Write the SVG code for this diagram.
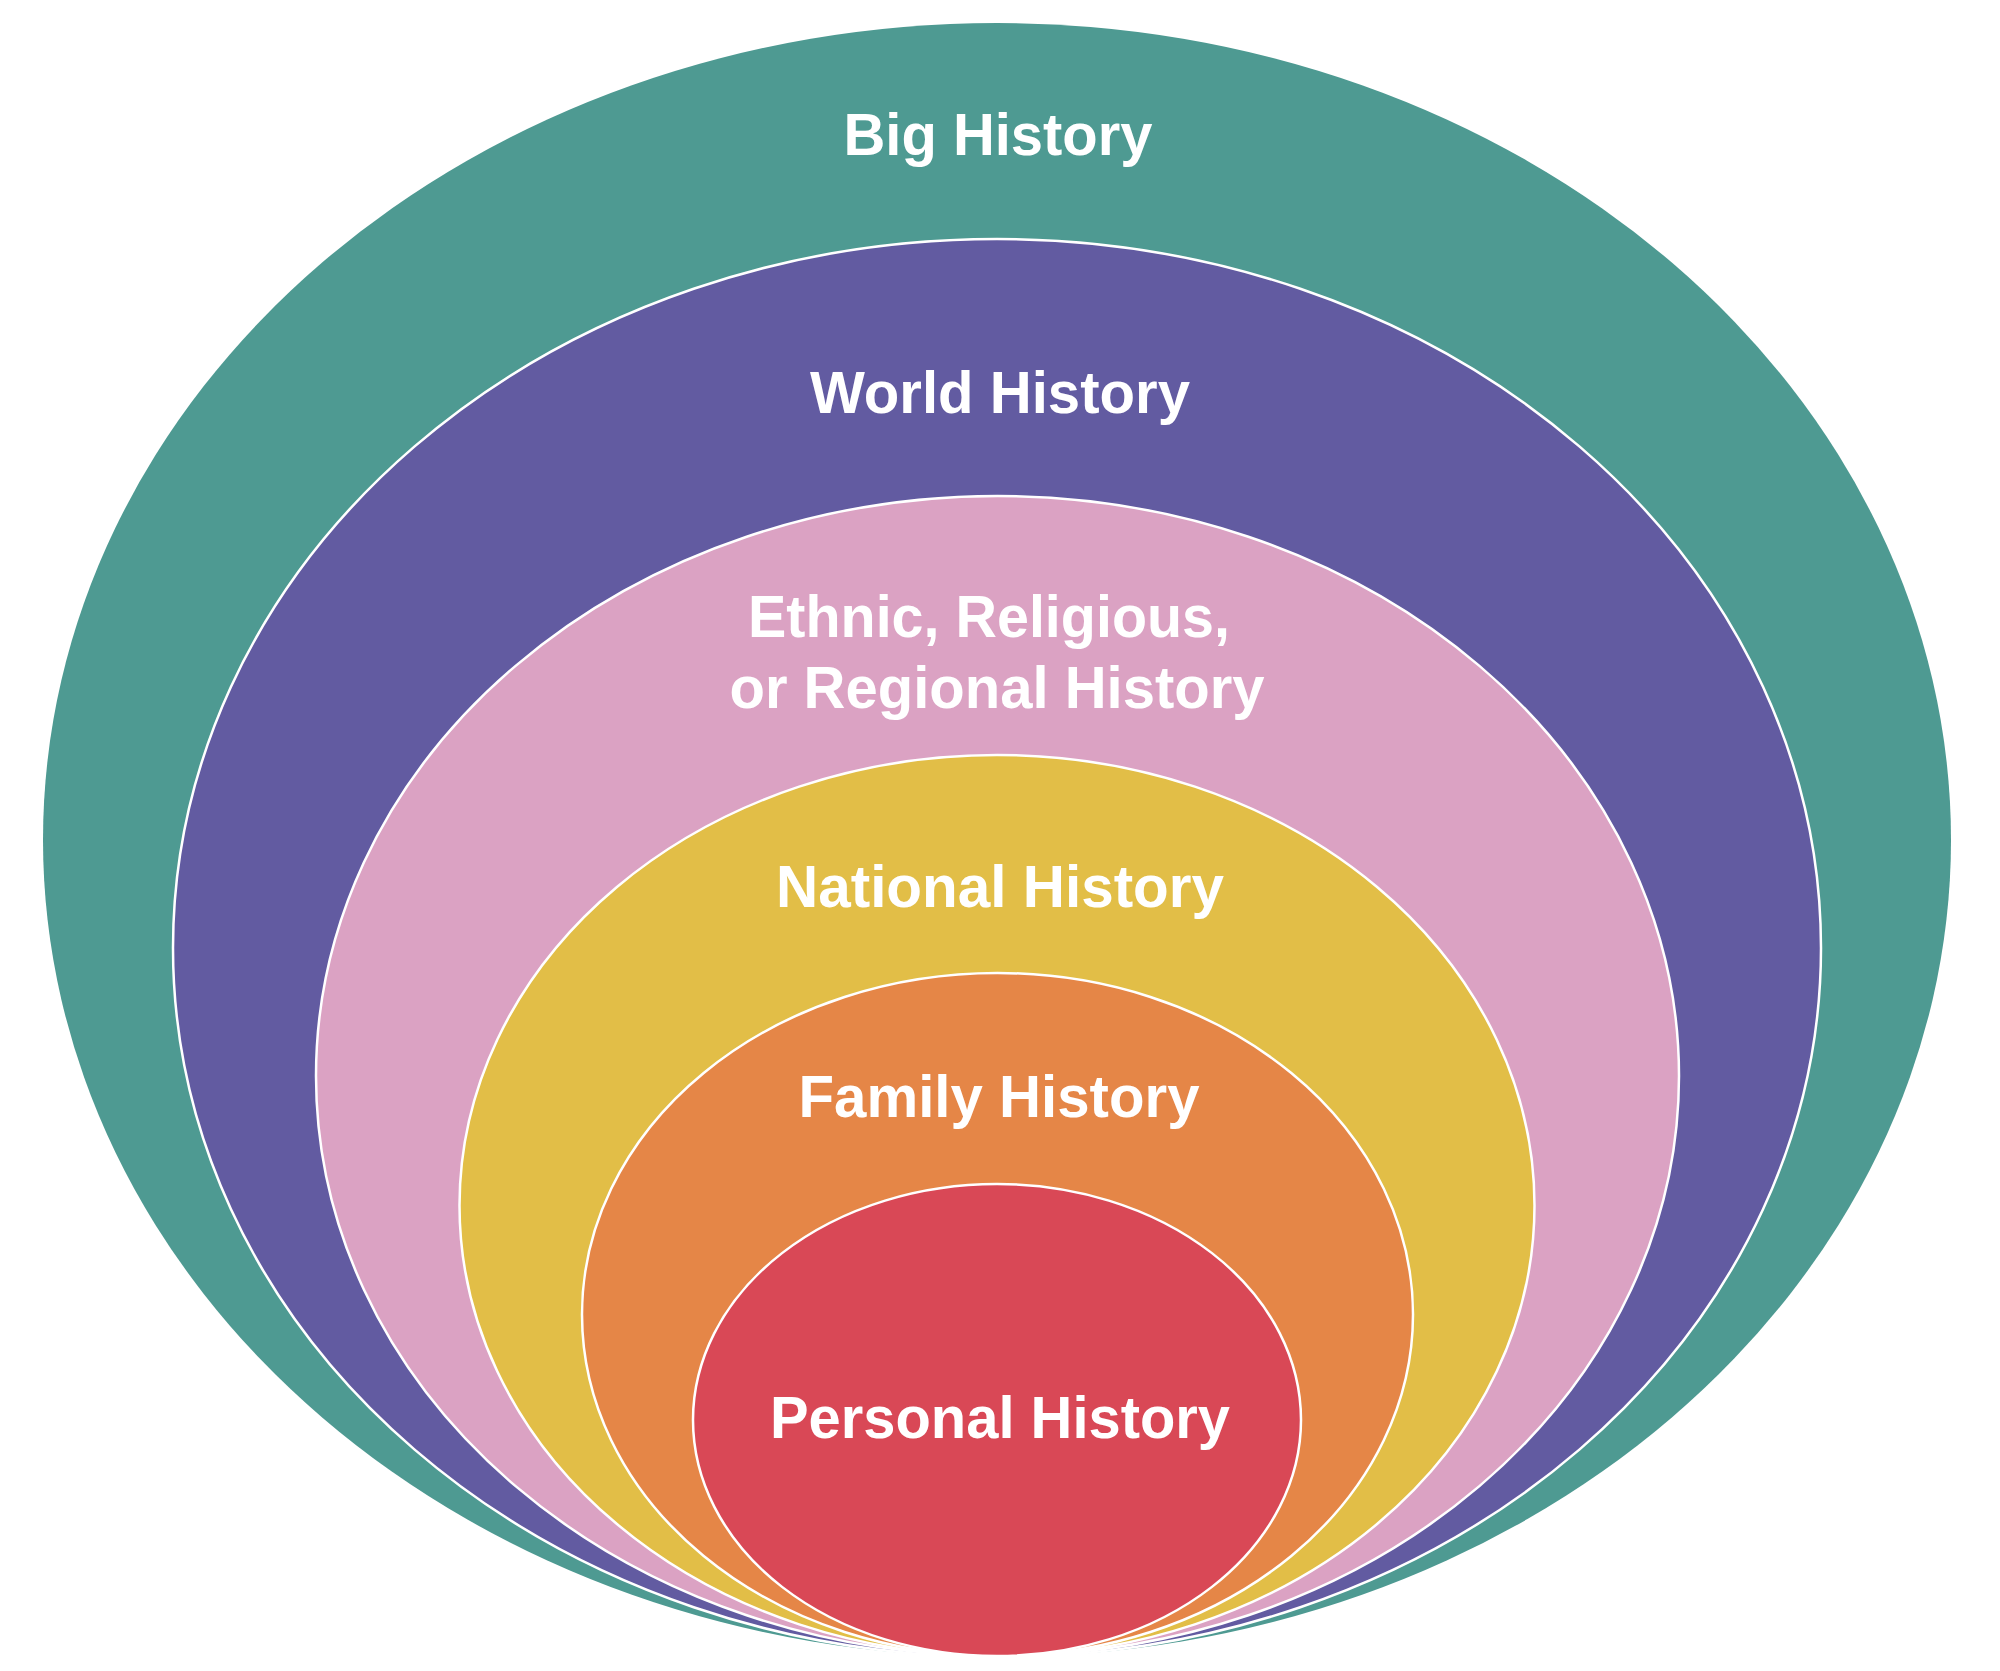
<svg xmlns="http://www.w3.org/2000/svg" width="2000" height="1671" viewBox="0 0 2000 1671">
<style>
.ring{stroke:#ffffff;stroke-width:2.5}
.lbl{font-family:"Liberation Sans",Arial,sans-serif;font-weight:bold;font-size:60px;fill:#ffffff;text-anchor:middle}
</style>
<rect width="2000" height="1671" fill="#ffffff"/>
<g id="big-history">
<ellipse cx="997" cy="840" rx="954" ry="817" fill="#4E9A92"/>
<text class="lbl" x="998" y="155" textLength="309" lengthAdjust="spacingAndGlyphs">Big History</text>
</g>
<g id="world-history">
<ellipse class="ring" cx="997" cy="948" rx="824" ry="709" fill="#625BA1"/>
<text class="lbl" x="1000" y="413" textLength="380" lengthAdjust="spacingAndGlyphs">World History</text>
</g>
<g id="regional-history">
<ellipse class="ring" cx="997.5" cy="1076" rx="681.5" ry="580" fill="#DBA2C3"/>
<text class="lbl" x="989" y="637" textLength="482" lengthAdjust="spacingAndGlyphs">Ethnic, Religious,</text>
<text class="lbl" x="997" y="708" textLength="535" lengthAdjust="spacingAndGlyphs">or Regional History</text>
</g>
<g id="national-history">
<ellipse class="ring" cx="997" cy="1205.5" rx="537.5" ry="450.5" fill="#E2BE47"/>
<text class="lbl" x="1000" y="907" textLength="448" lengthAdjust="spacingAndGlyphs">National History</text>
</g>
<g id="family-history">
<ellipse class="ring" cx="997.5" cy="1314.5" rx="415.5" ry="341.5" fill="#E58647"/>
<text class="lbl" x="999" y="1117" textLength="401" lengthAdjust="spacingAndGlyphs">Family History</text>
</g>
<g id="personal-history">
<ellipse class="ring" cx="997" cy="1420" rx="304" ry="236" fill="#D94856"/>
<text class="lbl" x="1000" y="1438" textLength="460" lengthAdjust="spacingAndGlyphs">Personal History</text>
</g>
<g id="connectors"/>
</svg>
